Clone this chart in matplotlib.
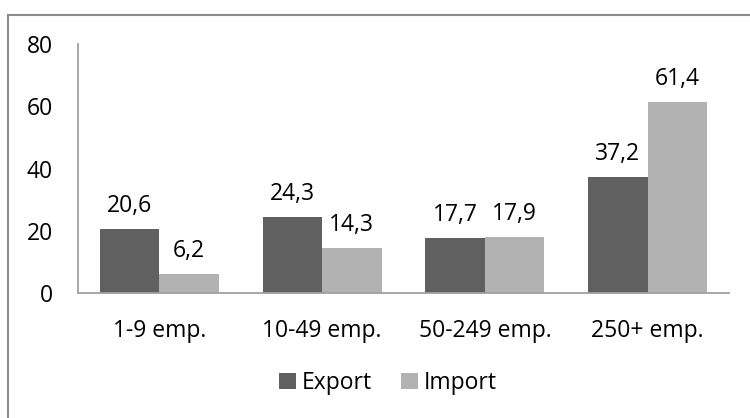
import matplotlib.pyplot as plt
import numpy as np
from matplotlib.patches import Rectangle

categories = ['1-9 emp.', '10-49 emp.', '50-249 emp.', '250+ emp.']
export = [20.6, 24.3, 17.7, 37.2]
imports = [6.2, 14.3, 17.9, 61.4]

plt.rcParams['font.family'] = ['Open Sans', 'DejaVu Sans']
fs = 16.5

fig = plt.figure(figsize=(7.5, 4.18), dpi=100)
ax = fig.add_axes([78/750, 1-293/418, (729-78)/750, (293-44)/418])

x = np.arange(len(categories))
w = 0.365
b1 = ax.bar(x - w/2, export, w, color='#606060', label='Export')
b2 = ax.bar(x + w/2, imports, w, color='#b2b2b2', label='Import')

for bars, vals in ((b1, export), (b2, imports)):
    for r, v in zip(bars, vals):
        ax.annotate(f'{v:.1f}'.replace('.', ','), (r.get_x() + r.get_width()/2, v),
                    xytext=(0, 8), textcoords='offset points',
                    ha='center', va='bottom', fontsize=fs)

ax.set_xlim(-0.5, 3.5)
ax.set_ylim(0, 80)
ax.set_yticks([0, 20, 40, 60, 80])
ax.set_xticks(x)
ax.set_xticklabels(categories)
ax.tick_params(axis='both', length=0, labelsize=fs)
ax.tick_params(axis='y', pad=18)
ax.tick_params(axis='x', pad=19)
for s in ('top', 'right'):
    ax.spines[s].set_visible(False)
for s in ('left', 'bottom'):
    ax.spines[s].set_color('#a0a0a0')
    ax.spines[s].set_linewidth(1.3)

fig.legend(loc='center', bbox_to_anchor=(388/750, 1-383/418), ncol=2, frameon=False,
           fontsize=fs, handlelength=0.72, handleheight=0.72, handletextpad=0.25,
           columnspacing=1.3)

fig.patches.append(Rectangle((8/750, -0.1), 1.2, 1.1 - 15/418, transform=fig.transFigure,
                             fill=False, edgecolor='#8c8c8c', linewidth=1.5))

fig.savefig('out.png', dpi=100)
